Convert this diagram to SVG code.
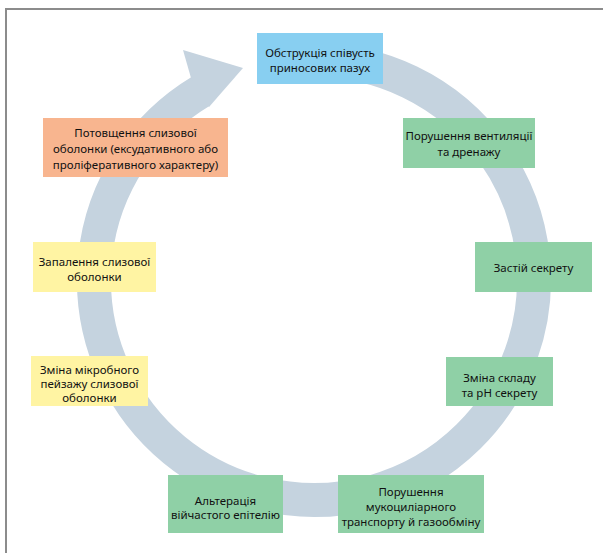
<svg xmlns="http://www.w3.org/2000/svg" width="603" height="553" viewBox="0 0 603 553">
  <style>
    text { font-family: "Noto Sans", "Open Sans", sans-serif; font-size: 11.5px; fill: #111111; text-anchor: middle; }
    .blue { fill: #88cff1; }
    .green { fill: #8fd0a6; }
    .yellow { fill: #fff4a3; }
    .orange { fill: #f8b58f; }
    .frame { stroke: #8c8c8c; stroke-width: 2; fill: none; }
    .ring { stroke: #c5d3df; stroke-width: 34; fill: none; }
    .head { fill: #c5d3df; }
  </style>
  <rect width="603" height="553" fill="#ffffff"/>
  <path class="frame" d="M6 553 V9 H603"/>

  <g id="connectors">
    <path class="ring" d="M314 60 A220 220 0 1 1 200.7 91.4"/>
    <polygon class="head" points="191,78 183,50 243,68 209,107"/>
  </g>

  <g id="n1">
    <rect class="blue" x="257" y="33" width="126" height="51"/>
    <text x="320" y="57">Обструкція співусть</text>
    <text x="320" y="72">приносових пазух</text>
  </g>
  <g id="n2">
    <rect class="green" x="403" y="118" width="132" height="50"/>
    <text x="469" y="140">Порушення вентиляції</text>
    <text x="469" y="156">та дренажу</text>
  </g>
  <g id="n3">
    <rect class="green" x="475" y="242" width="117" height="50"/>
    <text x="533.5" y="272">Застій секрету</text>
  </g>
  <g id="n4">
    <rect class="green" x="446" y="357" width="107" height="49"/>
    <text x="499.5" y="382">Зміна складу</text>
    <text x="499.5" y="397">та pH секрету</text>
  </g>
  <g id="n5">
    <rect class="green" x="338" y="475" width="146" height="58"/>
    <text x="411" y="496">Порушення</text>
    <text x="411" y="511">мукоциліарного</text>
    <text x="411" y="526">транспорту й газообміну</text>
  </g>
  <g id="n6">
    <rect class="green" x="168" y="475" width="115" height="58"/>
    <text x="225.5" y="505">Альтерація</text>
    <text x="225.5" y="519">війчастого епітелію</text>
  </g>
  <g id="n7">
    <rect class="yellow" x="31" y="356" width="117" height="50"/>
    <text x="89.5" y="374">Зміна мікробного</text>
    <text x="89.5" y="388">пейзажу слизової</text>
    <text x="89.5" y="402">оболонки</text>
  </g>
  <g id="n8">
    <rect class="yellow" x="33" y="242" width="123" height="50"/>
    <text x="94.5" y="266">Запалення слизової</text>
    <text x="94.5" y="281">оболонки</text>
  </g>
  <g id="n9">
    <rect class="orange" x="43" y="118" width="185" height="59"/>
    <text x="135.5" y="137">Потовщення слизової</text>
    <text x="135.5" y="153">оболонки (ексудативного або</text>
    <text x="135.5" y="169">проліферативного характеру)</text>
  </g>
</svg>
